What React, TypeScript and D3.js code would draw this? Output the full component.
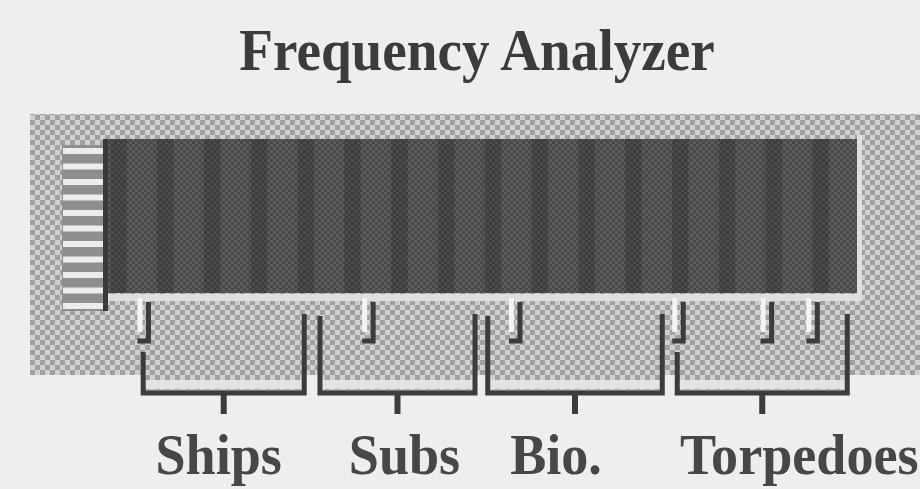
import React from 'react';
import * as d3 from 'd3';

// frequency bands (0-100 across the display)
const categories = ['Ships', 'Subs', 'Bio.', 'Torpedoes'];
const bandStart = [4.7, 28.3, 50.7, 76.0];
const bandEnd = [26.2, 49.0, 74.0, 98.7];
// pointer marks under the display
const markers = [5.4, 35.4, 55.0, 76.8, 88.6, 94.7];
// spectrum columns, level 0-10 (all at full scale in the picture)
const binLevels = [10, 10, 10, 10, 10, 10, 10, 10, 10, 10, 10, 10, 10, 10, 10, 10];
const levelTicks = [0, 1, 2, 3, 4, 5, 6, 7, 8, 9, 10];

const W = 920;
const H = 489;
const ink = '#3c3c3c';
const labelShift = [-5, 7, -19, 37];

export default function App() {
  const disp = { left: 108, right: 857, top: 139, bottom: 293 };

  const x = d3.scaleLinear().domain([0, 100]).range([disp.left, disp.right]);
  const yLevel = d3.scaleLinear().domain([0, 10]).range([disp.bottom, disp.top]);
  const yLadder = d3.scaleLinear().domain([0, 10]).range([306, 151]);
  const band = d3
    .scaleBand<number>()
    .domain(binLevels.map((_, i) => i))
    .range([disp.left, disp.right])
    .padding(0);

  const bracketBottom = 393;
  const bw = band.bandwidth();

  return (
    <svg
      width={W}
      height={H}
      style={{ position: 'absolute', left: 0, top: 0 }}
      fontFamily="'Liberation Serif', 'DejaVu Serif', serif"
    >
      <defs>
        <pattern id="checker" width={10} height={10} patternUnits="userSpaceOnUse">
          <rect width={10} height={10} fill="#d0d0d0" />
          <rect width={5} height={5} fill="#a0a0a0" />
          <rect x={5} y={5} width={5} height={5} fill="#a0a0a0" />
        </pattern>
        <pattern id="dither" width={6} height={6} patternUnits="userSpaceOnUse">
          <rect width={6} height={6} fill="#484848" />
          <rect width={3} height={3} fill="#5c5c5c" />
          <rect x={3} y={3} width={3} height={3} fill="#5c5c5c" />
        </pattern>
      </defs>

      <rect width={W} height={H} fill="#eeeeec" />

      <text
        transform={`translate(477,70) scale(0.92,1)`}
        textAnchor="middle"
        fontSize={60}
        fontWeight="bold"
        fill={ink}
      >
        Frequency Analyzer
      </text>

      {/* gray panel */}
      <rect x={30} y={114} width={W - 30} height={261} fill="url(#checker)" />

      {/* level ladder */}
      <rect x={62} y={145} width={44} height={166} fill="#8e8e8e" />
      {levelTicks.map((t) => (
        <rect key={t} x={63} y={yLadder(t) - 3} width={42} height={6} fill="#ececec" />
      ))}
      <rect x={103} y={139} width={5} height={172} fill="#3a3a3a" />

      {/* display */}
      <rect x={disp.right} y={135} width={5} height={166} fill="#dedede" />
      <rect x={disp.left} y={disp.bottom + 1} width={disp.right - disp.left + 5} height={7} fill="#dedede" />
      <rect
        x={disp.left}
        y={disp.top}
        width={disp.right - disp.left}
        height={disp.bottom - disp.top}
        fill="#3a3a3a"
      />
      {binLevels.map((v, i) => (
        <g key={i}>
          <rect
            x={band(i)}
            y={yLevel(v)}
            width={bw}
            height={yLevel(0) - yLevel(v)}
            fill="url(#dither)"
          />
          <rect
            x={(band(i) as number) + bw * 0.05}
            y={yLevel(v)}
            width={bw * 0.35}
            height={yLevel(0) - yLevel(v)}
            fill="#262626"
            opacity={0.3}
          />
        </g>
      ))}

      {/* brackets */}
      {categories.map((c, i) => {
        const xl = x(bandStart[i]);
        const xr = x(bandEnd[i]);
        const xm = (xl + xr) / 2;
        const nearMarker = markers.some((m) => Math.abs(x(m) - xl) < 10);
        const topL = nearMarker ? 352 : 316;
        return (
          <g key={c}>
            <rect x={xl} y={375} width={xr - xl} height={bracketBottom - 377} fill="url(#checker)" />
            <rect x={xl + 2} y={380} width={xr - xl - 4} height={9} fill="#e2e2e2" />
            <path
              d={`M${xl},${topL}V${bracketBottom}H${xr}V314`}
              fill="none"
              stroke={ink}
              strokeWidth={5}
            />
            <path d={`M${xm},${bracketBottom}V414`} stroke={ink} strokeWidth={6} />
            <text
              transform={`translate(${xm + labelShift[i]},474) scale(0.95,1)`}
              textAnchor="middle"
              fontSize={57}
              fontWeight="bold"
              fill="#474747"
            >
              {c}
            </text>
          </g>
        );
      })}

      {/* markers */}
      {markers.map((m, i) => {
        const mx = x(m);
        return (
          <g key={i}>
            <rect x={mx - 11} y={298} width={5} height={34} fill="#f4f4f4" />
            <path
              d={`M${mx - 11},${341}H${mx}V302`}
              fill="none"
              stroke={ink}
              strokeWidth={5}
            />
          </g>
        );
      })}
    </svg>
  );
}
